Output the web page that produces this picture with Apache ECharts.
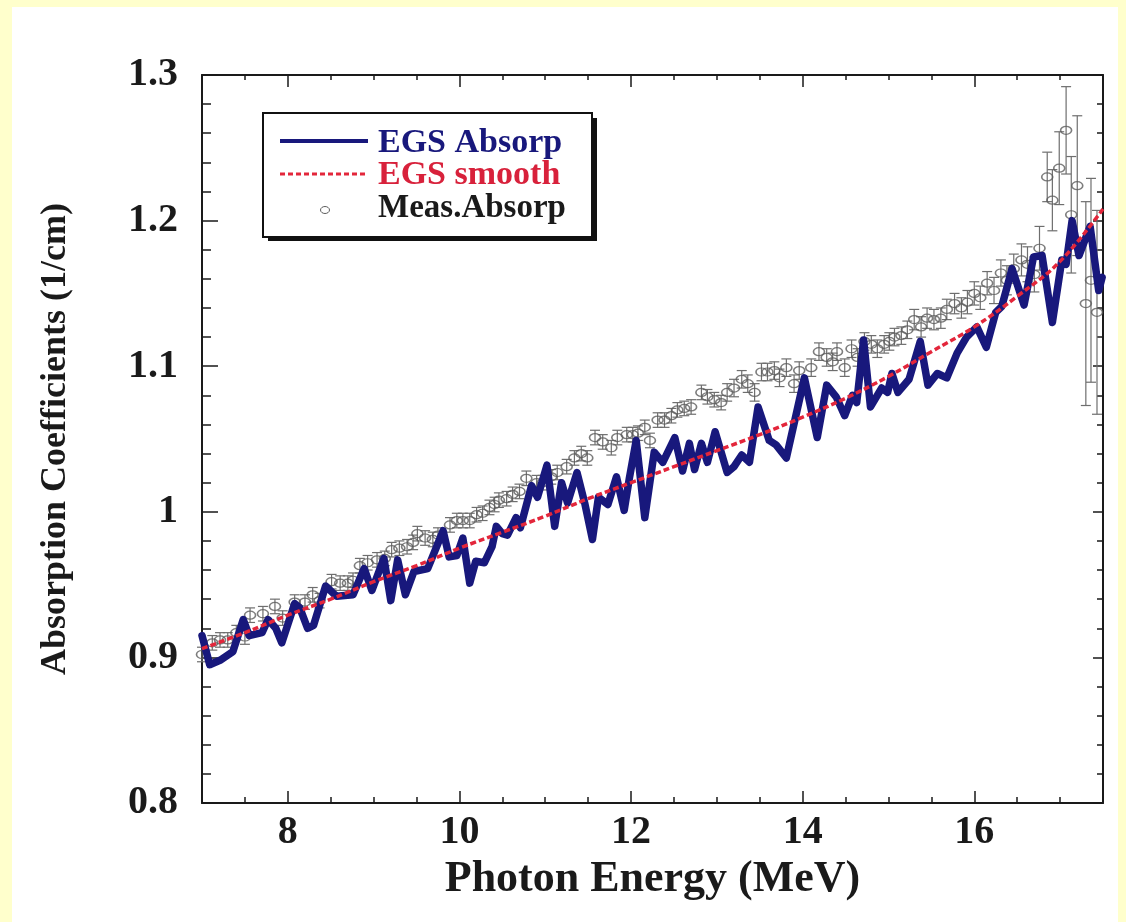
<!DOCTYPE html>
<html>
<head>
<meta charset="utf-8">
<title>Absorption Coefficients vs Photon Energy</title>
<script src="https://cdn.jsdelivr.net/npm/echarts@6/dist/echarts.min.js"></script>
<style>
  html, body { margin: 0; padding: 0; background: #FFFFCC; }
  #sheet { position: absolute; left: 12px; top: 7px; width: 1106px; height: 915px; background: #ffffff; }
  #chart { position: absolute; left: 0; top: 0; width: 1126px; height: 922px; }
</style>
</head>
<body>
<div id="sheet"></div>
<div id="chart"></div>
<script>
// Simulated absorption (EGS), photon energy in MeV
const egsE = [7.00,7.09,7.21,7.36,7.48,7.55,7.70,7.77,7.86,7.93,8.08,8.14,8.23,8.30,8.44,8.53,8.57,8.76,8.89,8.98,
  9.12,9.20,9.28,9.37,9.47,9.63,9.81,9.88,9.97,10.04,10.12,10.19,10.29,10.38,10.43,10.50,10.56,10.66,10.71,10.84,
  10.91,11.02,11.11,11.19,11.26,11.37,11.46,11.55,11.62,11.73,11.83,11.92,11.98,12.06,12.16,12.27,12.37,12.51,12.60,12.68,
  12.74,12.82,12.89,12.98,13.12,13.20,13.29,13.38,13.48,13.61,13.69,13.81,14.02,14.17,14.28,14.39,14.49,14.58,14.63,14.71,
  14.79,14.92,14.99,15.04,15.11,15.24,15.37,15.46,15.57,15.68,15.80,15.91,16.03,16.14,16.25,16.32,16.44,16.58,16.69,16.79,
  16.91,17.02,17.07,17.14,17.22,17.35,17.45,17.49];
const egsAbs = [0.915,0.895,0.898,0.904,0.926,0.915,0.917,0.926,0.920,0.910,0.937,0.934,0.920,0.922,0.949,0.944,0.942,0.943,0.961,0.946,
  0.968,0.939,0.967,0.943,0.959,0.961,0.987,0.969,0.970,0.982,0.951,0.966,0.965,0.976,0.990,0.985,0.984,0.996,0.989,1.018,
  1.010,1.032,0.990,1.020,1.006,1.027,1.006,0.981,1.010,1.005,1.024,1.001,1.023,1.049,0.996,1.041,1.034,1.051,1.028,1.047,
  1.029,1.047,1.034,1.055,1.027,1.031,1.039,1.034,1.072,1.049,1.046,1.037,1.092,1.051,1.087,1.079,1.066,1.080,1.075,1.118,
  1.072,1.085,1.082,1.095,1.082,1.091,1.117,1.087,1.095,1.092,1.109,1.120,1.127,1.113,1.137,1.141,1.167,1.142,1.175,1.176,
  1.130,1.173,1.170,1.200,1.176,1.196,1.152,1.161];

// Smoothed EGS curve
const smoothE = [7.0,7.5,8.0,8.5,9.0,9.5,10.0,10.5,11.0,11.5,12.0,12.5,13.0,13.5,14.0,14.5,15.0,15.5,16.0,16.5,17.0,17.5];
const smoothAbs = [0.906,0.917,0.929,0.940,0.952,0.963,0.975,0.986,0.997,1.009,1.020,1.031,1.042,1.053,1.065,1.078,1.093,1.110,1.127,1.148,1.172,1.208];

// Measured absorption with uncertainties
const measE = [7.00,7.12,7.21,7.30,7.40,7.50,7.56,7.71,7.85,7.94,8.08,8.20,8.29,8.37,8.51,8.61,8.70,8.76,8.84,8.93,
  9.04,9.13,9.21,9.30,9.39,9.46,9.51,9.60,9.69,9.75,9.89,9.97,10.04,10.12,10.20,10.27,10.35,10.41,10.46,10.55,
  10.62,10.70,10.78,10.90,10.97,11.07,11.14,11.25,11.34,11.42,11.49,11.58,11.67,11.77,11.84,11.95,12.02,12.08,12.16,12.22,
  12.31,12.39,12.47,12.54,12.62,12.70,12.82,12.89,12.97,13.05,13.12,13.20,13.29,13.36,13.44,13.52,13.59,13.67,13.73,13.81,
  13.90,13.96,14.10,14.19,14.28,14.35,14.40,14.49,14.57,14.64,14.72,14.80,14.87,14.95,15.01,15.07,15.15,15.22,15.30,15.38,
  15.45,15.53,15.61,15.68,15.77,15.85,15.92,16.00,16.07,16.15,16.23,16.31,16.38,16.46,16.55,16.62,16.70,16.76,16.85,16.91,
  16.99,17.07,17.13,17.20,17.30,17.36,17.43];
const measAbs = [0.902,0.910,0.912,0.912,0.917,0.914,0.929,0.930,0.935,0.927,0.938,0.938,0.943,0.939,0.952,0.951,0.951,0.953,0.963,0.965,
  0.967,0.968,0.974,0.975,0.976,0.979,0.985,0.982,0.981,0.984,0.991,0.994,0.994,0.994,0.998,0.999,1.003,1.005,1.008,1.009,
  1.012,1.014,1.023,1.020,1.020,1.024,1.027,1.031,1.037,1.040,1.037,1.051,1.048,1.044,1.051,1.053,1.053,1.054,1.058,1.049,
  1.063,1.063,1.066,1.070,1.071,1.072,1.082,1.079,1.077,1.075,1.082,1.085,1.091,1.088,1.082,1.096,1.096,1.097,1.092,1.099,
  1.088,1.097,1.099,1.110,1.106,1.103,1.110,1.099,1.112,1.106,1.117,1.115,1.112,1.115,1.117,1.120,1.121,1.125,1.132,1.127,
  1.133,1.132,1.133,1.139,1.143,1.140,1.144,1.150,1.147,1.157,1.152,1.164,1.159,1.167,1.173,1.170,1.163,1.181,1.230,1.214,
  1.236,1.262,1.204,1.224,1.143,1.159,1.137];
const measErr = [0.005,0.005,0.005,0.005,0.005,0.005,0.005,0.005,0.005,0.005,0.005,0.005,0.005,0.005,0.005,0.005,0.005,0.005,0.005,0.005,
  0.005,0.005,0.005,0.005,0.005,0.005,0.005,0.005,0.005,0.005,0.005,0.005,0.005,0.005,0.005,0.005,0.005,0.005,0.005,0.005,
  0.005,0.005,0.005,0.005,0.005,0.005,0.005,0.005,0.005,0.005,0.005,0.005,0.005,0.005,0.005,0.005,0.005,0.005,0.005,0.005,
  0.005,0.005,0.005,0.005,0.005,0.005,0.005,0.005,0.005,0.005,0.006,0.006,0.006,0.006,0.006,0.006,0.006,0.006,0.006,0.006,
  0.006,0.006,0.006,0.006,0.006,0.006,0.006,0.006,0.006,0.006,0.006,0.006,0.006,0.006,0.006,0.006,0.006,0.006,0.007,0.007,
  0.007,0.007,0.007,0.007,0.007,0.007,0.008,0.008,0.008,0.008,0.009,0.009,0.010,0.010,0.011,0.012,0.012,0.015,0.017,0.021,
  0.025,0.030,0.040,0.048,0.070,0.070,0.070];

// Axis tick labels
const xLabels = [8, 10, 12, 14, 16];
const yLabels = [0.8, 0.9, 1.0, 1.1, 1.2, 1.3];

const serif = "'Liberation Serif', 'Times New Roman', Times, serif";
const ink = '#1a1a1a';
const navy = '#18187c';
const red = '#e3263b';
const grey = '#5c5c5c';

const egsSeries = egsE.map((e, i) => [e, egsAbs[i]]);
const smoothSeries = smoothE.map((e, i) => [e, smoothAbs[i]]);
const measSeries = measE.map((e, i) => [e, measAbs[i]]);
const errSeries = measE.map((e, i) => [e, measAbs[i] - measErr[i], measAbs[i] + measErr[i]]);

function xAxisDef(position, tickLen, opts) {
  return Object.assign({
    type: 'value', min: 7, max: 17.5, position: position,
    axisLine: { show: false, onZero: false },
    axisTick: { show: true, inside: true, length: tickLen, lineStyle: { color: ink, width: 1.5 } },
    axisLabel: { show: false },
    splitLine: { show: false }
  }, opts);
}
function yAxisDef(position, tickLen, opts) {
  return Object.assign({
    type: 'value', min: 0.8, max: 1.3, position: position,
    axisLine: { show: false, onZero: false },
    axisTick: { show: true, inside: true, length: tickLen, lineStyle: { color: ink, width: 1.5 } },
    axisLabel: { show: false },
    splitLine: { show: false }
  }, opts);
}

const chart = echarts.init(document.getElementById('chart'));
chart.setOption({
  animation: false,
  backgroundColor: 'transparent',
  grid: { left: 202, top: 75, width: 901, height: 728, containLabel: false, outerBoundsMode: 'none' },
  xAxis: [
    xAxisDef('bottom', 6, {
      interval: 0.5,
      axisLine: { show: true, onZero: false, lineStyle: { color: ink, width: 2 } },
      axisLabel: {
        show: true, customValues: xLabels, margin: 10,
        fontFamily: serif, fontWeight: 'bold', fontSize: 40, color: ink
      },
      name: 'Photon Energy (MeV)', nameLocation: 'middle', nameGap: 53,
      nameTextStyle: { fontFamily: serif, fontWeight: 'bold', fontSize: 44, color: ink }
    }),
    xAxisDef('bottom', 12, { axisTick: { show: true, inside: true, length: 12, customValues: xLabels, lineStyle: { color: ink, width: 1.5 } } }),
    xAxisDef('top', 5, {
      interval: 0.5,
      axisLine: { show: true, onZero: false, lineStyle: { color: ink, width: 2 } }
    }),
    xAxisDef('top', 12, { axisTick: { show: true, inside: true, length: 12, customValues: xLabels, lineStyle: { color: ink, width: 1.5 } } })
  ],
  yAxis: [
    yAxisDef('left', 9, {
      interval: 0.02,
      axisLine: { show: true, onZero: false, lineStyle: { color: ink, width: 2 } },
      axisLabel: {
        show: true, customValues: yLabels, margin: 24,
        fontFamily: serif, fontWeight: 'bold', fontSize: 40, color: ink,
        formatter: v => (Math.abs(v - 1) < 1e-9 ? '1' : v.toFixed(1))
      },
      name: 'Absorption Coefficients (1/cm)', nameLocation: 'middle', nameGap: 128, nameRotate: 90,
      nameTextStyle: { fontFamily: serif, fontWeight: 'bold', fontSize: 36, color: ink }
    }),
    yAxisDef('left', 16, { axisTick: { show: true, inside: true, length: 16, customValues: yLabels, lineStyle: { color: ink, width: 1.5 } } }),
    yAxisDef('right', 6, {
      interval: 0.02,
      axisLine: { show: true, onZero: false, lineStyle: { color: ink, width: 2 } }
    }),
    yAxisDef('right', 10, { axisTick: { show: true, inside: true, length: 10, customValues: yLabels, lineStyle: { color: ink, width: 1.5 } } })
  ],
  series: [
    {
      name: 'Meas.Absorp', type: 'scatter', xAxisIndex: 0, yAxisIndex: 0,
      data: measSeries, symbol: 'circle', symbolSize: [11, 8],
      itemStyle: { color: 'rgba(0,0,0,0)', borderColor: grey, borderWidth: 1.4 },
      z: 2
    },
    {
      name: 'Meas.Absorp err', type: 'custom', xAxisIndex: 0, yAxisIndex: 0,
      data: errSeries, encode: { x: 0, y: [1, 2] }, z: 2,
      renderItem: function (params, api) {
        const lo = api.coord([api.value(0), api.value(1)]);
        const hi = api.coord([api.value(0), api.value(2)]);
        const cw = 5;
        const st = { stroke: '#6e6e6e', lineWidth: 1.2 };
        return {
          type: 'group',
          children: [
            { type: 'line', shape: { x1: lo[0], y1: lo[1], x2: hi[0], y2: hi[1] }, style: st },
            { type: 'line', shape: { x1: lo[0] - cw, y1: lo[1], x2: lo[0] + cw, y2: lo[1] }, style: st },
            { type: 'line', shape: { x1: hi[0] - cw, y1: hi[1], x2: hi[0] + cw, y2: hi[1] }, style: st }
          ]
        };
      }
    },
    {
      name: 'EGS Absorp', type: 'line', xAxisIndex: 0, yAxisIndex: 0,
      data: egsSeries, showSymbol: false, symbol: 'none',
      lineStyle: { color: navy, width: 7.5, join: 'round', cap: 'round' },
      z: 3
    },
    {
      name: 'EGS smooth', type: 'line', xAxisIndex: 0, yAxisIndex: 0,
      data: smoothSeries, showSymbol: false, symbol: 'none', smooth: 0.4,
      lineStyle: { color: red, width: 3.5, type: [6, 3] },
      z: 4
    }
  ],
  graphic: [
    { type: 'rect', z: 100, shape: { x: 268, y: 118, width: 329, height: 123 }, style: { fill: '#111111' } },
    { type: 'rect', z: 101, shape: { x: 263, y: 113, width: 329, height: 124 }, style: { fill: '#ffffff', stroke: '#111111', lineWidth: 2 } },
    { type: 'line', z: 102, shape: { x1: 280, y1: 141, x2: 368, y2: 141 }, style: { stroke: navy, lineWidth: 4 } },
    { type: 'line', z: 102, shape: { x1: 280, y1: 174, x2: 367, y2: 174 }, style: { stroke: red, lineWidth: 3, lineDash: [5, 3] } },
    { type: 'ellipse', z: 102, shape: { cx: 325, cy: 210, rx: 4.5, ry: 3.5 }, style: { fill: 'none', stroke: grey, lineWidth: 1 } },
    { type: 'text', z: 102, x: 378, y: 143, style: { text: 'EGS Absorp', fill: navy, font: "bold 34px " + serif, textVerticalAlign: 'middle' } },
    { type: 'text', z: 102, x: 378, y: 175, style: { text: 'EGS smooth', fill: '#d8213b', font: "bold 34px " + serif, textVerticalAlign: 'middle' } },
    { type: 'text', z: 102, x: 378, y: 208, style: { text: 'Meas.Absorp', fill: ink, font: "bold 33px " + serif, textVerticalAlign: 'middle' } }
  ]
});
</script>
</body>
</html>
